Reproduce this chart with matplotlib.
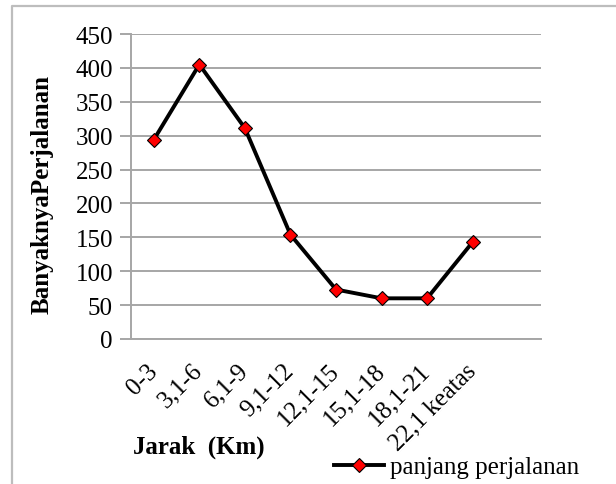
import matplotlib
matplotlib.use("Agg")
import matplotlib.pyplot as plt
from matplotlib.lines import Line2D

# jumlah perjalanan per kelas jarak
jarak = ["0-3", "3,1-6", "6,1-9", "9,1-12", "12,1-15", "15,1-18", "18,1-21", "22,1 keatas"]
perjalanan = [294, 405, 311, 154, 73, 60, 60, 143]
yticks = [0, 50, 100, 150, 200, 250, 300, 350, 400, 450]

plt.rcParams['font.family'] = ['Liberation Serif', 'DejaVu Serif']
grey = '#a6a6a6'

fig = plt.figure(figsize=(6.16, 4.85), dpi=100)
ax = fig.add_axes([0.2127, 0.299, 0.6655, 0.6288])

x = list(range(len(jarak)))
ax.plot(x, perjalanan, color='black', lw=2.8, marker='D', ms=7.3,
        mfc='#ff0000', mec='black', mew=0.8, label='panjang perjalanan',
        solid_joinstyle='round', zorder=3)

ax.set_xlim(-0.5, 8.5)
ax.set_ylim(0, 450)
ax.set_yticks(yticks)
ax.set_xticks(x)
ax.set_xticklabels(jarak, rotation=45, ha='right', va='center', rotation_mode='anchor')
ax.tick_params(axis='x', length=0, pad=20, labelsize=18)
ax.tick_params(axis='y', length=8, width=1.4, color=grey, direction='out', pad=5, labelsize=18)

ax.grid(axis='y', color=grey, lw=1.4)
ax.set_axisbelow(True)
for s in ['top', 'right']:
    ax.spines[s].set_visible(False)
for s in ['left', 'bottom']:
    ax.spines[s].set_color(grey)
    ax.spines[s].set_linewidth(1.4)

fig.text(0.068, 0.598, 'BanyaknyaPerjalanan', rotation=90, fontsize=18,
         fontweight='bold', ha='center', va='center')
fig.text(0.323, 0.078, 'Jarak  (Km)', fontsize=18, fontweight='bold',
         ha='center', va='center')

fig.legend(loc='center left', bbox_to_anchor=(0.522, 0.035), frameon=False,
           fontsize=18, handlelength=2.0, handletextpad=0.25, borderpad=0)

# bingkai tipis di tepi kiri dan atas
fig.add_artist(Line2D([0.0195, 0.0195, 1.0], [0.0, 0.9856, 0.9856],
                      transform=fig.transFigure, color='#bdbdbd', lw=1.6))

fig.savefig('out.png', dpi=100)
